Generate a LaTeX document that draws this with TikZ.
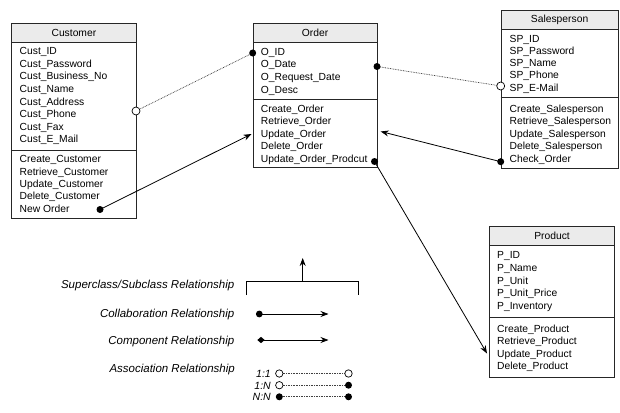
\documentclass[tikz,border=0pt]{standalone}
\usepackage{fontspec}
\setmainfont{Liberation Sans}
\usetikzlibrary{arrows.meta,shapes.geometric}
\begin{document}
\begin{tikzpicture}[x=1pt,y=-1pt,
  boxline/.style={draw=black!85, line width=0.8pt},
  classbox/.style={boxline, fill=white, inner sep=0pt, anchor=north west},
  hdr/.style={boxline, fill=black!8, inner sep=0pt, anchor=north west,
    minimum height=19pt, font=\fontsize{10.3}{12}\selectfont},
  row/.style={anchor=west, inner sep=0pt, text height=7.6pt, text depth=2.2pt,
    font=\fontsize{10.3}{12}\selectfont},
  legendtext/.style={anchor=east, inner sep=0pt, text height=8pt, text depth=2.4pt,
    font=\fontsize{11.5}{13}\selectfont\itshape},
  card/.style={anchor=east, inner sep=0pt, text height=7.6pt, text depth=0pt,
    font=\fontsize{10.5}{12}\selectfont\itshape},
  dotlink/.style={draw=black!75, line width=0.75pt, dash pattern=on 0.75pt off 0.9pt},
  solidlink/.style={draw=black, line width=0.8pt},
  arr/.style={-{Stealth[length=8pt,width=6pt]}},
  fulldot/.style={circle, fill=black, inner sep=0pt, minimum size=7pt},
  opendot/.style={circle, draw=black, fill=white, line width=0.7pt, inner sep=0pt, minimum size=8pt},
  compdot/.style={diamond, fill=black, inner sep=0pt, minimum width=7.5pt, minimum height=6.5pt},
]
\useasboundingbox (0,0) rectangle (620,412);

% ---------- Customer ----------
\node[classbox, minimum width=125pt, minimum height=194.5pt] (cust) at (11,23) {};
\node[hdr, minimum width=125pt] (custH) at (11,23) {Customer};
\draw[boxline] (11,150) -- (136,150);
\foreach \t [count=\i from 0] in {Cust\_ID, Cust\_Password, Cust\_Business\_No, Cust\_Name,
    Cust\_Address, Cust\_Phone, Cust\_Fax, Cust\_E\_Mail}
  \node[row] (custA\i) at (19.5, 52+12.6*\i) {\t};
\foreach \t [count=\i from 0] in {Create\_Customer, Retrieve\_Customer, Update\_Customer,
    Delete\_Customer, New Order}
  \node[row] (custM\i) at (19.5, 160+12.4*\i) {\t};

% ---------- Order ----------
\node[classbox, minimum width=124pt, minimum height=144pt] (ord) at (252.7,23.3) {};
\node[hdr, minimum width=124pt] (ordH) at (252.7,23.3) {Order};
\draw[boxline] (252.7,99.3) -- (376.7,99.3);
\foreach \t [count=\i from 0] in {O\_ID, O\_Date, O\_Request\_Date, O\_Desc}
  \node[row] (ordA\i) at (260.7, 52.5+12.6*\i) {\t};
\foreach \t [count=\i from 0] in {Create\_Order, Retrieve\_Order, Update\_Order,
    Delete\_Order, Update\_Order\_Prodcut}
  \node[row] (ordM\i) at (260.7, 109.3+12.6*\i) {\t};

% ---------- Salesperson ----------
\node[classbox, minimum width=117pt, minimum height=158.3pt] (sp) at (500.7,10) {};
\node[hdr, minimum width=117pt] (spH) at (500.7,10) {Salesperson};
\draw[boxline] (500.7,97.7) -- (617.7,97.7);
\foreach \t [count=\i from 0] in {SP\_ID, SP\_Password, SP\_Name, SP\_Phone, SP\_E-Mail}
  \node[row] (spA\i) at (509.5, 39.5+12.2*\i) {\t};
\foreach \t [count=\i from 0] in {Create\_Salesperson, Retrieve\_Salesperson,
    Update\_Salesperson, Delete\_Salesperson, Check\_Order}
  \node[row] (spM\i) at (509.5, 109.3+12.6*\i) {\t};

% ---------- Product ----------
\node[classbox, minimum width=125.3pt, minimum height=150.7pt] (prod) at (489,226) {};
\node[hdr, minimum width=125.3pt] (prodH) at (489,226) {Product};
\draw[boxline] (489,317.7) -- (614.3,317.7);
\foreach \t [count=\i from 0] in {P\_ID, P\_Name, P\_Unit, P\_Unit\_Price, P\_Inventory}
  \node[row] (prodA\i) at (497, 255.5+12.9*\i) {\t};
\foreach \t [count=\i from 0] in {Create\_Product, Retrieve\_Product, Update\_Product,
    Delete\_Product}
  \node[row] (prodM\i) at (497, 329.3+12.5*\i) {\t};

% ---------- connector end points ----------
\coordinate (custAssoc) at (136,111);
\coordinate (ordAssocL) at (252.7,53);
\coordinate (ordAssocR) at (377,66.5);
\coordinate (spAssoc)   at (500.7,86);
\coordinate (newOrder)  at (100,209.5);
\coordinate (ordIn)     at (251.5,134);
\coordinate (checkOrd)  at (500.7,161.7);
\coordinate (ordInR)    at (380.7,131.5);
\coordinate (ordProd)   at (374.5,161.5);
\coordinate (prodIn)    at (487,353.5);

% ---------- relationships ----------
\draw[dotlink] (custAssoc) -- (ordAssocL);
\draw[dotlink] (ordAssocR) -- (spAssoc);
\draw[solidlink, arr] (newOrder) -- (ordIn);
\draw[solidlink, arr] (checkOrd) -- (ordInR);
\draw[solidlink, arr] (ordProd) -- (prodIn);
\node[opendot] (custEnd) at (custAssoc) {};
\node[fulldot] (ordEndL) at (ordAssocL) {};
\node[fulldot] (ordEndR) at (ordAssocR) {};
\node[opendot] (spEnd) at (spAssoc) {};
\node[fulldot] (newOrderEnd) at (newOrder) {};
\node[fulldot] (checkOrdEnd) at (checkOrd) {};
\node[fulldot] (ordProdEnd) at (ordProd) {};

% ---------- legend ----------
\node[legendtext] (lgSuper) at (234.5,286) {Superclass/Subclass Relationship};
\node[legendtext] (lgCollab) at (234.5,315) {Collaboration Relationship};
\node[legendtext] (lgComp) at (234.5,341.5) {Component Relationship};
\node[legendtext] (lgAssoc) at (235,370) {Association Relationship};

% superclass/subclass symbol
\coordinate (brL) at (246.7,295);
\coordinate (brTL) at (246.7,281.7);
\coordinate (brM) at (302.7,281.7);
\coordinate (brTR) at (358.3,281.7);
\coordinate (brR) at (358.3,295);
\coordinate (brTop) at (302.7,258);
\draw[solidlink] (brL) -- (brTL) -- (brTR) -- (brR);
\draw[solidlink, arr] (brM) -- (brTop);

% collaboration symbol
\coordinate (colA) at (259.3,314);
\coordinate (colB) at (328.5,314);
\draw[solidlink, arr] (colA) -- (colB);
\node[fulldot, minimum size=6.8pt] (colDot) at (colA) {};

% component symbol
\coordinate (cmpA) at (261,340);
\coordinate (cmpB) at (328.5,340);
\draw[solidlink, arr] (cmpA) -- (cmpB);
\node[compdot] (cmpDia) at (cmpA) {};

% association symbols
\node[card] (c11) at (271,373.5) {1:1};
\node[card] (c1n) at (271,385.2) {1:N};
\node[card] (cnn) at (271,396.8) {N:N};
\coordinate (a1L) at (279.3,373.5);  \coordinate (a1R) at (348.5,373.5);
\coordinate (a2L) at (279.3,385.2);  \coordinate (a2R) at (348.5,385.2);
\coordinate (a3L) at (279.3,396.8);  \coordinate (a3R) at (348.5,396.8);
\draw[dotlink] (a1L) -- (a1R);
\draw[dotlink] (a2L) -- (a2R);
\draw[dotlink] (a3L) -- (a3R);
\node[opendot, minimum size=7.4pt] (a1Ldot) at (a1L) {};
\node[opendot, minimum size=7.4pt] (a1Rdot) at (a1R) {};
\node[opendot, minimum size=7.4pt] (a2Ldot) at (a2L) {};
\node[fulldot] (a2Rdot) at (a2R) {};
\node[fulldot] (a3Ldot) at (a3L) {};
\node[fulldot] (a3Rdot) at (a3R) {};
\end{tikzpicture}
\end{document}
